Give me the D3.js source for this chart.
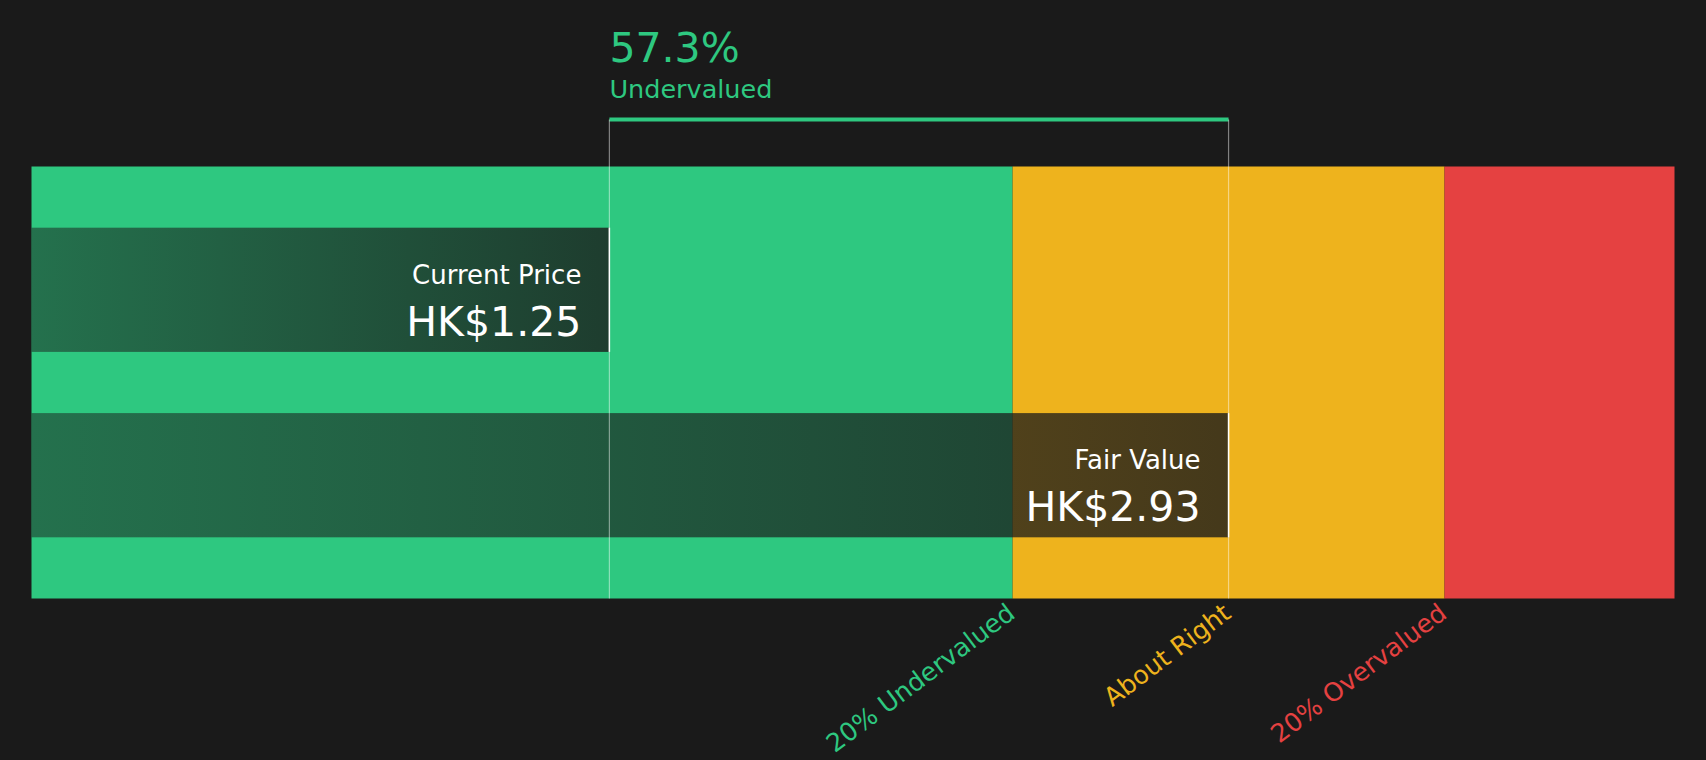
<!DOCTYPE html>
<html>
<head>
<meta charset="utf-8">
<script src="https://cdn.jsdelivr.net/npm/d3@7"></script>
<style>
  body { margin: 0; background: #1a1a1a; }
  text { font-family: 'DejaVu Sans', sans-serif; }
</style>
</head>
<body>
<svg id="chart"></svg>
<script>
var currentPrice = 1.25
var fairValue = 2.93
var bandNames = ["20% Undervalued", "About Right", "20% Overvalued"]
var bandColors = ["#2ec880", "#eeb31d", "#e54141"]
var bandEnds = [fairValue * 0.8, fairValue * 1.2]
var bars = [
  {label: "Current Price", value: currentPrice},
  {label: "Fair Value", value: fairValue}
]
var undervalued = "57.3%"

var width = 1706, height = 760
var plotLeft = 31.5, plotRight = 1674.5, plotTop = 166.5, plotBottom = 598.5

var svg = d3.select("#chart").attr("width", width).attr("height", height)

var x = d3.scaleLinear().domain([-0.318, 4.14]).range([plotLeft, plotRight])
var y = d3.scaleBand().domain(bars.map(function(d){ return d.label })).range([plotTop, plotBottom]).paddingInner(0.33).paddingOuter(0.33)

var defs = svg.append("defs")
var grad = defs.append("linearGradient").attr("id", "shade")
grad.append("stop").attr("offset", "0%").attr("stop-color", "#1a1a1a").attr("stop-opacity", 0.5)
grad.append("stop").attr("offset", "100%").attr("stop-color", "#1a1a1a").attr("stop-opacity", 0.8)

// background bands
var edges = [x.domain()[0]].concat(bandEnds).concat([x.domain()[1]])
svg.selectAll(".band").data(bandColors).enter().append("rect")
  .attr("x", function(d, i){ return x(edges[i]) })
  .attr("width", function(d, i){ return x(edges[i + 1]) - x(edges[i]) })
  .attr("y", plotTop).attr("height", plotBottom - plotTop)
  .attr("fill", function(d){ return d })

// value bars
var g = svg.selectAll(".bar").data(bars).enter().append("g")
g.append("rect")
  .attr("x", plotLeft)
  .attr("width", function(d){ return x(d.value) - plotLeft })
  .attr("y", function(d){ return y(d.label) })
  .attr("height", y.bandwidth())
  .attr("fill", "url(#shade)")
g.append("line")
  .attr("x1", function(d){ return x(d.value) }).attr("x2", function(d){ return x(d.value) })
  .attr("y1", function(d){ return y(d.label) }).attr("y2", function(d){ return y(d.label) + y.bandwidth() })
  .attr("stroke", "#ffffff").attr("stroke-width", 1.5)
g.append("text")
  .attr("x", function(d){ return x(d.value) - 28 })
  .attr("y", function(d){ return y(d.label) + 56 })
  .attr("text-anchor", "end").attr("fill", "#ffffff").style("font-size", "26px")
  .text(function(d){ return d.label })
g.append("text")
  .attr("x", function(d){ return x(d.value) - 28 })
  .attr("y", function(d){ return y(d.label) + 108 })
  .attr("text-anchor", "end").attr("fill", "#ffffff").style("font-size", "41px")
  .text(function(d){ return "HK$" + d.value.toFixed(2) })

// bracket
var bracketY = 119.5
svg.append("rect")
  .attr("x", x(currentPrice)).attr("width", x(fairValue) - x(currentPrice))
  .attr("y", bracketY - 2).attr("height", 4).attr("fill", "#2ec880")
;[currentPrice, fairValue].forEach(function(v){
  svg.append("line")
    .attr("x1", x(v)).attr("x2", x(v)).attr("y1", bracketY).attr("y2", plotBottom)
    .attr("stroke", "#ffffff").attr("stroke-opacity", 0.45).attr("stroke-width", 1.2)
})
svg.append("text").attr("x", x(currentPrice)).attr("y", 62)
  .attr("fill", "#2ec880").style("font-size", "41px").text(undervalued)
svg.append("text").attr("x", x(currentPrice)).attr("y", 98)
  .attr("fill", "#2ec880").style("font-size", "25.5px").text("Undervalued")

// band labels
var labelPos = [bandEnds[0], fairValue, bandEnds[1]]
svg.selectAll(".blabel").data(bandNames).enter().append("text")
  .attr("transform", function(d, i){ return "translate(" + (x(labelPos[i]) + 4) + "," + (plotBottom + 18) + ") rotate(-37)" })
  .attr("text-anchor", "end")
  .attr("fill", function(d, i){ return bandColors[i] })
  .style("font-size", "25.5px")
  .text(function(d){ return d })
</script>
</body>
</html>
